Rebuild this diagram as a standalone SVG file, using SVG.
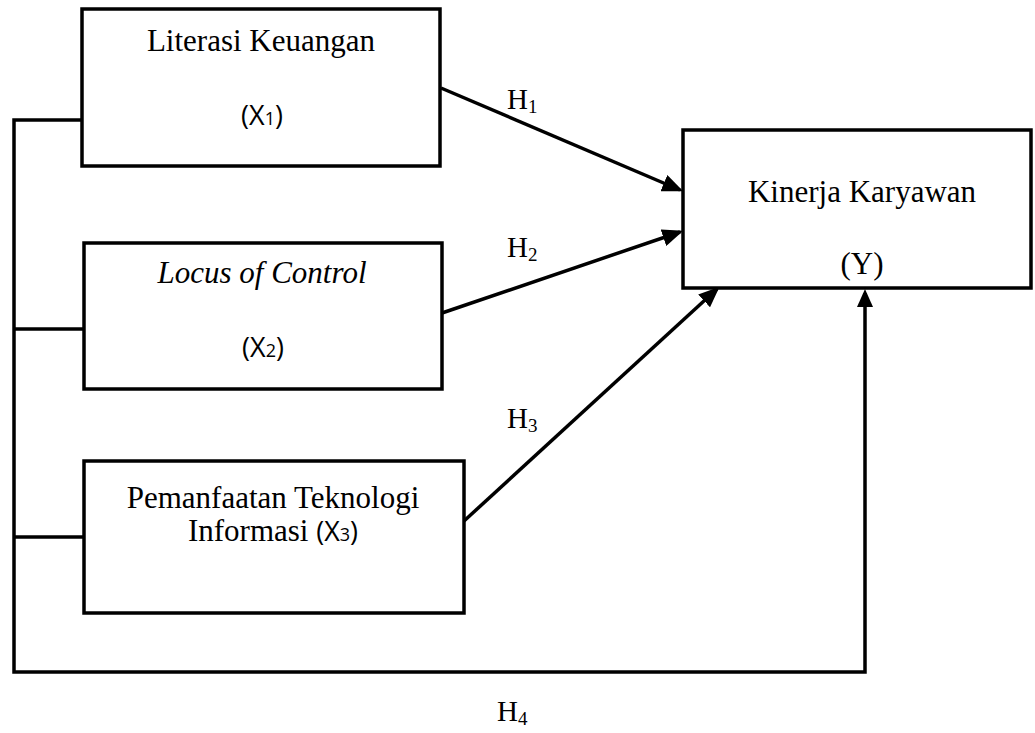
<svg xmlns="http://www.w3.org/2000/svg" width="1035" height="733" viewBox="0 0 1035 733">
<style>
.box{fill:#fff;stroke:#000;stroke-width:3.5}
.ln{fill:none;stroke:#000;stroke-width:3.5}
.t{font-family:"Liberation Serif","Times New Roman",serif;font-size:31px;fill:#000;text-anchor:middle}
.s{font-family:"Open Sans","Liberation Sans",sans-serif;font-size:27px;fill:#000}
.h{font-family:"Liberation Serif","Times New Roman",serif;font-size:29px;fill:#000}
</style>
<defs>
<marker id="ah" markerWidth="6" markerHeight="5" refX="5" refY="2.5" orient="auto" markerUnits="strokeWidth">
<path d="M0,0 L6,2.5 L0,5 Z" fill="#000"/>
</marker>
</defs>
<g id="connectors">
<polyline class="ln" points="84,120 14,120 14,672 865,672 865,293"/>
<line class="ln" x1="14" y1="329" x2="86" y2="329"/>
<line class="ln" x1="14" y1="537" x2="86" y2="537"/>
<line class="ln" x1="441" y1="88" x2="680" y2="190" marker-end="url(#ah)"/>
<line class="ln" x1="442" y1="313" x2="680" y2="232" marker-end="url(#ah)"/>
<line class="ln" x1="464" y1="521" x2="717" y2="289" marker-end="url(#ah)"/>
<path d="M865,289 L857,307 L873,307 Z" fill="#000"/>
<text class="h" x="507" y="109">H<tspan font-size="19" dy="4">1</tspan></text>
<text class="h" x="507" y="257">H<tspan font-size="19" dy="4">2</tspan></text>
<text class="h" x="507" y="428">H<tspan font-size="19" dy="4">3</tspan></text>
<text class="h" x="497" y="721">H<tspan font-size="19" dy="4">4</tspan></text>
</g>
<g id="x1">
<rect class="box" x="82" y="9" width="358" height="157"/>
<text class="t" x="261" y="51">Literasi Keuangan</text>
<text class="s" x="262" y="125" text-anchor="middle">(X<tspan font-size="18">1</tspan>)</text>
</g>
<g id="x2">
<rect class="box" x="84" y="243" width="358" height="146"/>
<text class="t" x="262" y="283" font-style="italic">Locus of Control</text>
<text class="s" x="263" y="357" text-anchor="middle">(X<tspan font-size="18">2</tspan>)</text>
</g>
<g id="x3">
<rect class="box" x="84" y="461" width="380" height="152"/>
<text class="t" x="273" y="508">Pemanfaatan Teknologi</text>
<text class="t" x="273" y="541">Informasi <tspan class="s" font-size="27">(X<tspan font-size="18">3</tspan>)</tspan></text>
</g>
<g id="y">
<rect class="box" x="683" y="130" width="348" height="158"/>
<text class="t" x="862" y="202">Kinerja Karyawan</text>
<text class="t" x="862" y="274">(Y)</text>
</g>
</svg>
